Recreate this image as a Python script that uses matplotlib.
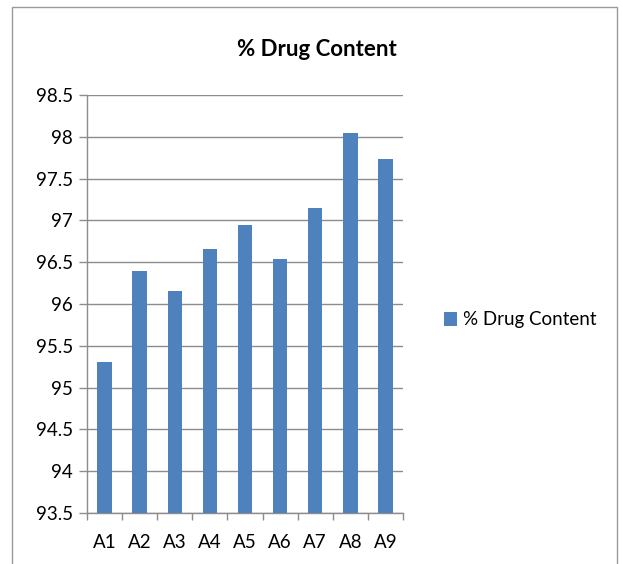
import matplotlib.pyplot as plt
import matplotlib.patches as patches
import numpy as np

# Drug content per formulation batch
batches = ['A1', 'A2', 'A3', 'A4', 'A5', 'A6', 'A7', 'A8', 'A9']
drug_content = [95.31, 96.40, 96.15, 96.66, 96.94, 96.54, 97.15, 98.04, 97.74]
y_ticks = [93.5, 94, 94.5, 95, 95.5, 96, 96.5, 97, 97.5, 98, 98.5]

plt.rcParams['font.family'] = ['Lato', 'DejaVu Sans']

fig = plt.figure(figsize=(6.23, 5.64), dpi=100)
W, H = 623, 564

# outer chart frame
fig.patches.append(patches.Rectangle((12 / W, -0.05), (617 - 12) / W, 1.05 - 7 / H,
                                     transform=fig.transFigure, fill=False,
                                     edgecolor='#9a9a9a', linewidth=1.0))

ax = fig.add_axes([87 / W, 1 - 513 / H, (403 - 87) / W, (513 - 95) / H])

x = np.arange(len(batches))
ax.bar(x, drug_content, width=0.41, color='#4F81BD',
       label='% Drug Content', zorder=3)

ax.set_ylim(93.5, 98.5)
ax.set_xlim(-0.5, len(batches) - 0.5)
ax.set_yticks(y_ticks)
ax.set_yticklabels([f'{v:g}' for v in y_ticks], fontsize=13.5)
ax.yaxis.grid(True, color='#8c8c8c', linewidth=1.0, zorder=0)

# categories labelled in the middle, tick marks on the boundaries
ax.set_xticks(x)
ax.set_xticklabels(batches, fontsize=13.5)
ax.tick_params(axis='x', length=0, pad=15)
ax.set_xticks(np.arange(-0.5, len(batches)), minor=True)
ax.tick_params(axis='x', which='minor', length=5, color='#8c8c8c', width=1)
ax.tick_params(axis='y', length=6, color='#8c8c8c', width=1, pad=4)

for side in ['top', 'right']:
    ax.spines[side].set_visible(False)
for side in ['left', 'bottom']:
    ax.spines[side].set_color('#8c8c8c')
    ax.spines[side].set_linewidth(1.0)

fig.text(317 / W, 1 - 49 / H, '% Drug Content', ha='center', va='center',
         fontsize=16, fontweight='bold')

fig.legend(loc='center left', bbox_to_anchor=(427 / W, 1 - 320 / H),
           frameon=False, fontsize=13.5, handlelength=0.7, handleheight=0.7,
           handletextpad=0.3)

fig.savefig('out.png', dpi=100)
